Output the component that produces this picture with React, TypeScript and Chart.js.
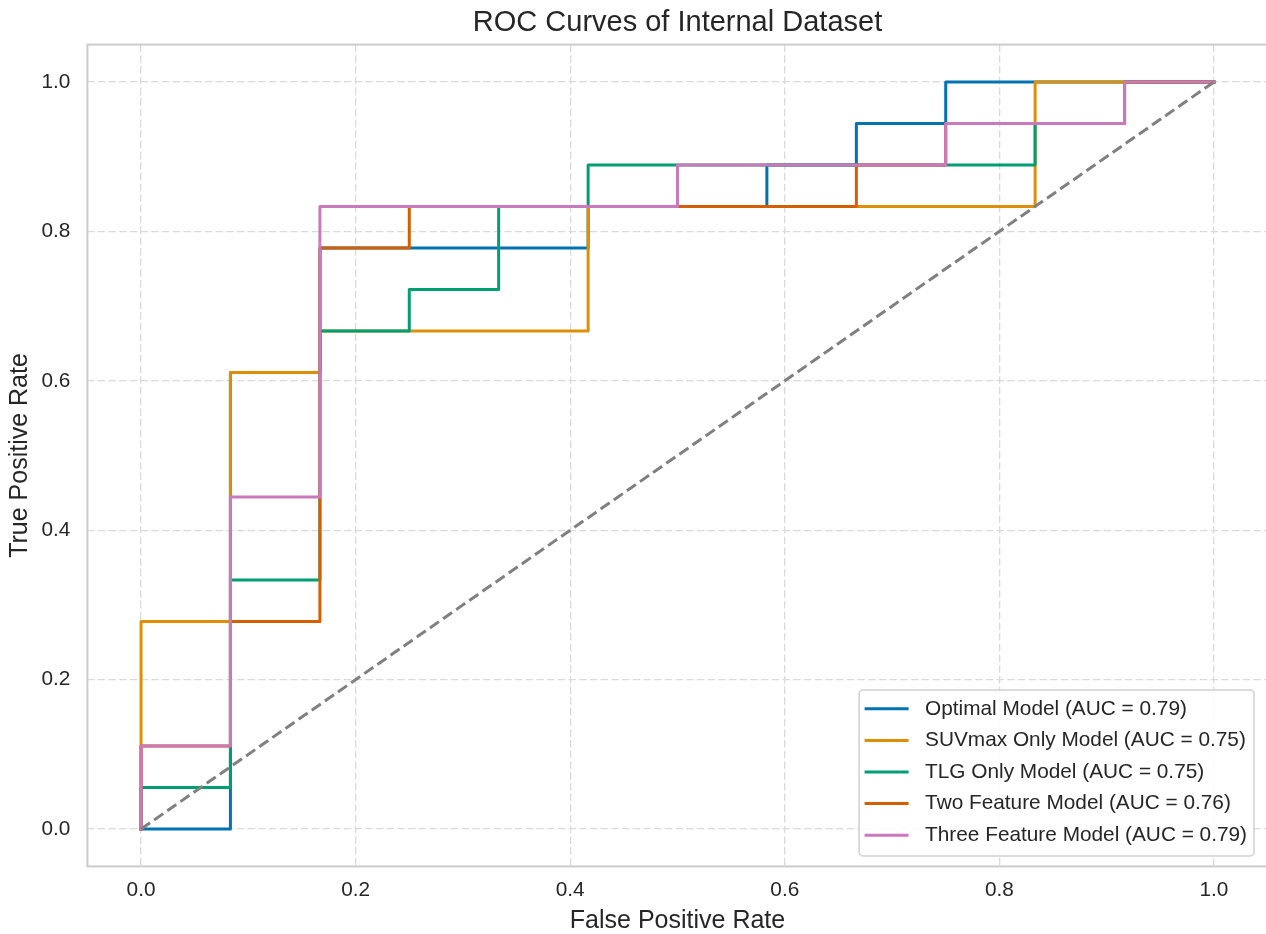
import React, { useEffect, useRef } from "react";
import { Chart, registerables } from "chart.js";

Chart.register(...registerables);

const FONT = '"Liberation Sans", Arial, sans-serif';
const TEXT_COLOR = "#262626";

const TITLE = "ROC Curves of Internal Dataset";
const X_LABEL = "False Positive Rate";
const Y_LABEL = "True Positive Rate";
const TICK_VALUES = [0, 0.2, 0.4, 0.6, 0.8, 1.0];

const MODEL_NAMES = [
  "Optimal Model",
  "SUVmax Only Model",
  "TLG Only Model",
  "Two Feature Model",
  "Three Feature Model",
];
const MODEL_AUC = [0.79, 0.75, 0.75, 0.76, 0.79];
const MODEL_COLORS = ["#0173B2", "#DE8F05", "#029E73", "#D55E00", "#CC78BC"];

const OPTIMAL_FPR = [0, 0.0833, 0.0833, 0.1667, 0.1667, 0.4167, 0.4167, 0.5833, 0.5833, 0.6667, 0.6667, 0.75, 0.75, 1];
const OPTIMAL_TPR = [0, 0, 0.6111, 0.6111, 0.7778, 0.7778, 0.8333, 0.8333, 0.8889, 0.8889, 0.9444, 0.9444, 1, 1];

const SUVMAX_FPR = [0, 0, 0.0833, 0.0833, 0.1667, 0.1667, 0.4167, 0.4167, 0.8333, 0.8333, 1];
const SUVMAX_TPR = [0, 0.2778, 0.2778, 0.6111, 0.6111, 0.6667, 0.6667, 0.8333, 0.8333, 1, 1];

const TLG_FPR = [0, 0, 0.0833, 0.0833, 0.1667, 0.1667, 0.25, 0.25, 0.3333, 0.3333, 0.4167, 0.4167, 0.8333, 0.8333, 0.9167, 0.9167, 1];
const TLG_TPR = [0, 0.0556, 0.0556, 0.3333, 0.3333, 0.6667, 0.6667, 0.7222, 0.7222, 0.8333, 0.8333, 0.8889, 0.8889, 0.9444, 0.9444, 1, 1];

const TWO_FPR = [0, 0, 0.0833, 0.0833, 0.1667, 0.1667, 0.25, 0.25, 0.6667, 0.6667, 0.75, 0.75, 0.9167, 0.9167, 1];
const TWO_TPR = [0, 0.1111, 0.1111, 0.2778, 0.2778, 0.7778, 0.7778, 0.8333, 0.8333, 0.8889, 0.8889, 0.9444, 0.9444, 1, 1];

const THREE_FPR = [0, 0, 0.0833, 0.0833, 0.1667, 0.1667, 0.5, 0.5, 0.75, 0.75, 0.9167, 0.9167, 1];
const THREE_TPR = [0, 0.1111, 0.1111, 0.4444, 0.4444, 0.8333, 0.8333, 0.8889, 0.8889, 0.9444, 0.9444, 1, 1];

const CHANCE_FPR = [0, 1];
const CHANCE_TPR = [0, 1];

const MODEL_FPR = [OPTIMAL_FPR, SUVMAX_FPR, TLG_FPR, TWO_FPR, THREE_FPR];
const MODEL_TPR = [OPTIMAL_TPR, SUVMAX_TPR, TLG_TPR, TWO_TPR, THREE_TPR];

const toPoints = (xs: number[], ys: number[]) => xs.map((x, i) => ({ x, y: ys[i] }));

const framePlugin = {
  id: "frame",
  beforeDatasetsDraw(chart: any) {
    const { ctx, chartArea: a } = chart;
    ctx.save();
    ctx.strokeStyle = "#cccccc";
    ctx.lineWidth = 2;
    ctx.strokeRect(a.left, a.top, a.right - a.left, a.bottom - a.top);
    ctx.restore();
  },
};

const legendPlugin = {
  id: "rocLegend",
  afterDraw(chart: any) {
    const { ctx, chartArea: a } = chart;
    const items = chart.data.datasets.filter((d: any) => d.label);
    const fs = 20.8;
    ctx.save();
    ctx.font = `${fs}px ${FONT}`;
    const maxW = Math.max(...items.map((d: any) => ctx.measureText(d.label).width));
    const rowGap = 31.6;
    const padTop = 18.7;
    const padBottom = 20.8;
    const height = padTop + rowGap * (items.length - 1) + padBottom;
    const width = 66 + maxW + 7;
    const right = a.right - 13.6;
    const bottom = a.bottom - 10.4;
    const left = right - width;
    const top = bottom - height;
    ctx.beginPath();
    ctx.roundRect(left, top, width, height, 4);
    ctx.fillStyle = "rgba(255,255,255,0.85)";
    ctx.fill();
    ctx.strokeStyle = "#d0d0d0";
    ctx.lineWidth = 1.5;
    ctx.stroke();
    items.forEach((d: any, i: number) => {
      const cy = top + padTop + i * rowGap;
      ctx.beginPath();
      ctx.moveTo(left + 5.5, cy);
      ctx.lineTo(left + 49.5, cy);
      ctx.strokeStyle = d.borderColor;
      ctx.lineWidth = 3;
      ctx.lineCap = "butt";
      ctx.stroke();
      ctx.fillStyle = TEXT_COLOR;
      ctx.textBaseline = "middle";
      ctx.textAlign = "left";
      ctx.fillText(d.label, left + 66, cy);
    });
    ctx.restore();
  },
};

export default function App() {
  const canvasRef = useRef<HTMLCanvasElement | null>(null);

  useEffect(() => {
    document.body.style.margin = "0";
    document.body.style.background = "#ffffff";
    const canvas = canvasRef.current;
    if (!canvas) return;

    const modelSets = MODEL_NAMES.map((name, i) => ({
      label: `${name} (AUC = ${MODEL_AUC[i].toFixed(2)})`,
      data: toPoints(MODEL_FPR[i], MODEL_TPR[i]),
      borderColor: MODEL_COLORS[i],
      backgroundColor: MODEL_COLORS[i],
      borderWidth: 3,
      pointRadius: 0,
      tension: 0,
      fill: false,
      borderJoinStyle: "round",
      borderCapStyle: "square",
      order: MODEL_NAMES.length + 1 - i,
    }));

    const chanceSet = {
      label: "",
      data: toPoints(CHANCE_FPR, CHANCE_TPR),
      borderColor: "#808080",
      backgroundColor: "#808080",
      borderWidth: 3,
      borderDash: [11, 5],
      pointRadius: 0,
      tension: 0,
      fill: false,
      order: 1,
    };

    const tickFont = { family: FONT, size: 20.8 };
    const titleFont = { family: FONT, size: 25, lineHeight: 1 };
    const setTicks = (s: any) => {
      s.ticks = TICK_VALUES.map((v) => ({ value: v }));
    };

    const chart = new Chart(canvas, {
      type: "line",
      data: { datasets: [...modelSets, chanceSet] as any },
      options: {
        animation: false,
        responsive: false,
        devicePixelRatio: 1,
        events: [],
        layout: { padding: { left: 0, right: 2.4, top: 0, bottom: 0 } },
        plugins: {
          legend: { display: false },
          tooltip: { enabled: false },
          title: {
            display: true,
            text: TITLE,
            fullSize: false,
            color: TEXT_COLOR,
            font: { family: FONT, size: 29, weight: "normal", lineHeight: 1.2 },
            padding: { top: 5.3, bottom: 4.5 },
          },
        },
        scales: {
          x: {
            type: "linear",
            min: -0.05,
            max: 1.05,
            afterBuildTicks: setTicks,
            afterFit: (s: any) => {
              s.height = 67.6;
            },
            ticks: {
              callback: (v: any) => Number(v).toFixed(1),
              color: TEXT_COLOR,
              font: tickFont,
              padding: 11,
              maxRotation: 0,
              autoSkip: false,
            },
            grid: { color: "#dadada", lineWidth: 1.3, drawTicks: false, tickLength: 0 },
            border: { display: false, dash: [7.5, 3.2] },
            title: {
              display: true,
              text: X_LABEL,
              color: TEXT_COLOR,
              font: titleFont,
              padding: { top: 0, bottom: 0 },
            },
          },
          y: {
            type: "linear",
            min: -0.05,
            max: 1.05,
            afterBuildTicks: setTicks,
            afterFit: (s: any) => {
              s.width = 87.4;
            },
            ticks: {
              callback: (v: any) => Number(v).toFixed(1),
              color: TEXT_COLOR,
              font: tickFont,
              padding: 17,
              autoSkip: false,
            },
            grid: { color: "#dadada", lineWidth: 1.3, drawTicks: false, tickLength: 0 },
            border: { display: false, dash: [7.5, 3.2] },
            title: {
              display: true,
              text: Y_LABEL,
              color: TEXT_COLOR,
              font: titleFont,
              padding: { top: 7.8, bottom: 0 },
            },
          },
        },
      } as any,
      plugins: [framePlugin, legendPlugin],
    });

    return () => {
      chart.destroy();
    };
  }, []);

  return (
    <div style={{ width: 1266, height: 934, overflow: "hidden", background: "#ffffff" }}>
      <canvas ref={canvasRef} width={1270} height={934} style={{ display: "block", width: 1270, height: 934 }} />
    </div>
  );
}
